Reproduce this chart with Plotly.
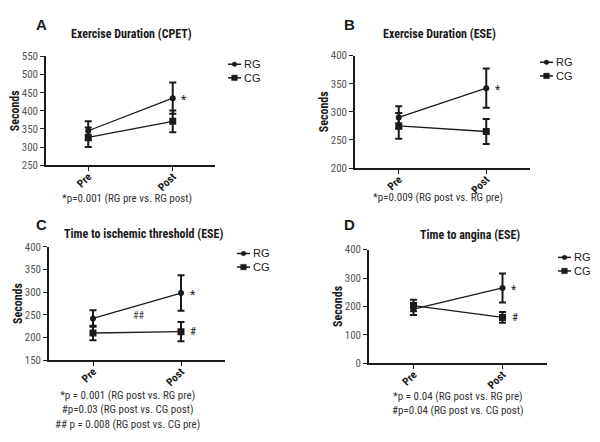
import plotly.graph_objects as go

# ---------------- data ----------------
categories = ["Pre", "Post"]
series_names = ["RG", "CG"]

# Panel A: Exercise Duration (CPET)
a_rg = [345, 435]
a_rg_err = [26, 43]
a_cg = [327, 371]
a_cg_err = [27, 30]

# Panel B: Exercise Duration (ESE)
b_rg = [290, 342]
b_rg_err = [20, 35]
b_cg = [275, 265]
b_cg_err = [23, 22]

# Panel C: Time to ischemic threshold (ESE)
c_rg = [242, 298]
c_rg_err = [18, 39]
c_cg = [210, 213]
c_cg_err = [16, 21]

# Panel D: Time to angina (ESE)
d_rg = [190, 265]
d_rg_err = [20, 51]
d_cg = [203, 161]
d_cg_err = [20, 19]

titles = ["Exercise Duration (CPET)", "Exercise Duration (ESE)",
          "Time to ischemic threshold (ESE)", "Time to angina (ESE)"]
letters = ["A", "B", "C", "D"]
y_ranges = [[250, 550], [200, 400], [150, 400], [0, 400]]
y_dticks = [50, 50, 50, 100]
footnotes = [
    "*p=0.001 (RG pre vs. RG post)",
    "*p=0.009 (RG post vs. RG pre)",
    "*p = 0.001 (RG post vs. RG pre)<br>#p=0.03 (RG post vs. CG post)<br>## p = 0.008 (RG post vs. CG pre)",
    "*p = 0.04 (RG post vs. RG pre)<br>#p=0.04 (RG post vs. CG post)",
]

NARROW = "Liberation Sans Narrow, Arial Narrow, Roboto Condensed, Liberation Sans, Arial, sans-serif"
SANS = "Liberation Sans, Arial, sans-serif"
DARK = "#1a1a1a"
W, H = 600, 442

# panel geometry in pixels: x0, x1, ytop, ybottom of plot area
panels_px = [
    (46, 215, 52, 164),
    (355, 530, 51, 167),
    (49, 225, 248, 365),
    (369, 547, 251, 368),
]
title_pos = [(131, 29), (440, 29), (143, 235), (470, 236)]
letter_pos = [(41, 19), (349, 19), (41, 225), (349, 225)]
foot_pos = [(127, 198), (438, 197), (127, 416), (458, 410)]
legend_pos = [(228, 60), (540, 58), (237, 255), (558, 259)]
LEG_GAP = 14

fig = go.Figure()
data = [
    (a_rg, a_rg_err, a_cg, a_cg_err),
    (b_rg, b_rg_err, b_cg, b_cg_err),
    (c_rg, c_rg_err, c_cg, c_cg_err),
    (d_rg, d_rg_err, d_cg, d_cg_err),
]

def px(x):
    return x / W

def py(y):
    return 1 - y / H

annotations = []
shapes = []
layout = {}
for i, ((rg, rge, cg, cge), (x0, x1, yt, yb)) in enumerate(zip(data, panels_px)):
    n = "" if i == 0 else str(i + 1)
    xa, ya = "x" + n, "y" + n
    for name, vals, errs, sym, size in [(series_names[0], rg, rge, "circle", 6),
                                        (series_names[1], cg, cge, "square", 7)]:
        fig.add_trace(go.Scatter(
            x=categories, y=vals, name=name, mode="lines+markers",
            xaxis=xa, yaxis=ya, showlegend=False,
            line=dict(color=DARK, width=1.3),
            marker=dict(symbol=sym, size=size, color=DARK),
            error_y=dict(type="data", array=errs, visible=True, color=DARK,
                         thickness=2, width=3.5),
        ))
    layout["xaxis" + n] = dict(
        domain=[px(x0), px(x1)], anchor=ya, type="category",
        range=[-0.5, 1.5], showline=True, linecolor=DARK, linewidth=1.5,
        ticks="outside", ticklen=4, tickcolor=DARK, tickwidth=1.2,
        tickangle=-45, showgrid=False, zeroline=False, ticklabelstandoff=-5,
        tickfont=dict(family=NARROW, size=11, color=DARK, weight="bold"),
    )
    layout["yaxis" + n] = dict(
        domain=[py(yb), py(yt)], anchor=xa,
        range=y_ranges[i], dtick=y_dticks[i], showline=True, linecolor=DARK,
        linewidth=1.5, ticks="outside", ticklen=4, tickcolor=DARK, tickwidth=1.2,
        showgrid=False, zeroline=False,
        tickfont=dict(family=NARROW, size=11, color="#555555"),
        title=dict(text="Seconds", standoff=0,
                   font=dict(family=NARROW, size=12, color=DARK, weight="bold")),
    )
    # title
    tx, ty = title_pos[i]
    annotations.append(dict(
        text="<b>" + titles[i] + "</b>", xref="paper", yref="paper",
        x=px(tx), y=py(ty), xanchor="center", yanchor="middle", showarrow=False,
        font=dict(family=NARROW, size=12, color=DARK)))
    # panel letter
    lx_, ly_ = letter_pos[i]
    annotations.append(dict(
        text="<b>" + letters[i] + "</b>", xref="paper", yref="paper",
        x=px(lx_), y=py(ly_), xanchor="center", yanchor="middle", showarrow=False,
        font=dict(family=SANS, size=15, color=DARK)))
    # footnote
    fx, fy = foot_pos[i]
    annotations.append(dict(
        text=footnotes[i], xref="paper", yref="paper",
        x=px(fx), y=py(fy), xanchor="center", yanchor="middle", showarrow=False,
        align="center", font=dict(family=NARROW, size=11, color="#333333")))
    # significance marks
    annotations.append(dict(text="*", xref=xa, yref=ya, x=1, y=rg[1],
                            xshift=11, yshift=-2, showarrow=False,
                            font=dict(family=NARROW, size=12, color=DARK)))
    if i >= 2:
        annotations.append(dict(text="#", xref=xa, yref=ya, x=1, y=cg[1],
                                xshift=12, showarrow=False,
                                font=dict(family=NARROW, size=11, color=DARK)))
    # legend (drawn in layout space)
    gx, gy = legend_pos[i]
    for k, sym in enumerate(["circle", "square"]):
        yy = gy + LEG_GAP * k
        shapes.append(dict(type="line", xref="paper", yref="paper",
                           x0=px(gx), x1=px(gx + 13), y0=py(yy), y1=py(yy),
                           line=dict(color=DARK, width=1.5)))
        r = 2.3 if sym == "circle" else 2.8
        shapes.append(dict(type="circle" if sym == "circle" else "rect",
                           xref="paper", yref="paper",
                           x0=px(gx + 6.5 - r), x1=px(gx + 6.5 + r),
                           y0=py(yy - r), y1=py(yy + r),
                           fillcolor=DARK, line=dict(color=DARK, width=0.5)))
    annotations.append(dict(text="<br>".join(series_names), xref="paper", yref="paper",
                            x=px(gx + 14), y=py(gy + LEG_GAP / 2), xanchor="left",
                            yanchor="middle", showarrow=False, align="left",
                            font=dict(family=SANS, size=11, color=DARK)))

annotations.append(dict(text="##", xref="x3", yref="y3", x=0.52, y=248,
                        showarrow=False,
                        font=dict(family=NARROW, size=10, color="#444444")))

fig.update_layout(
    width=W, height=H, margin=dict(l=0, r=0, t=0, b=0),
    paper_bgcolor="white", plot_bgcolor="white", showlegend=False,
    annotations=annotations, shapes=shapes, **layout,
)

fig.write_html("out.html")
